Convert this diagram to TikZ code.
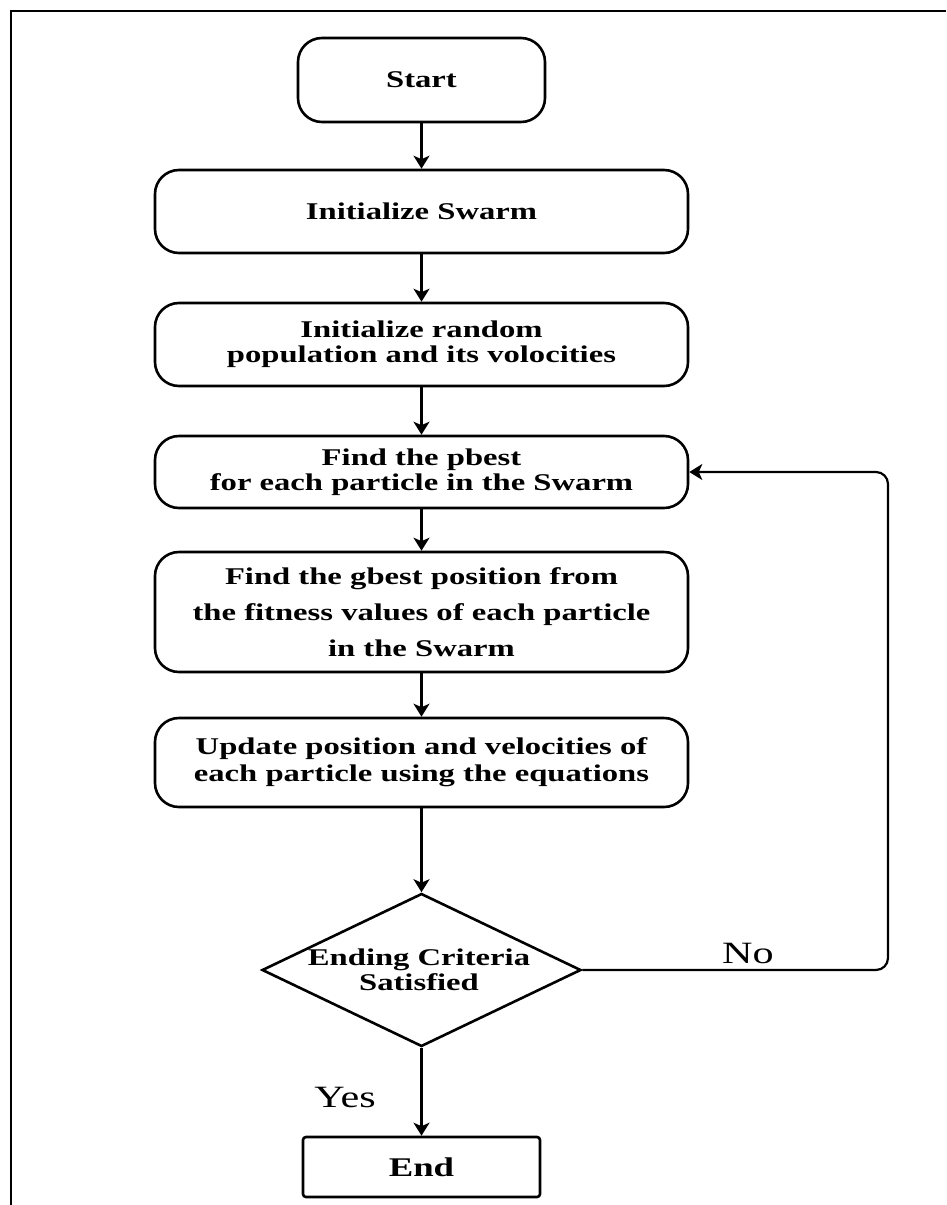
\documentclass[tikz,border=0pt]{standalone}
\usepackage{fontspec}
\setmainfont[FakeStretch=1.36]{Liberation Serif}
\usetikzlibrary{arrows.meta,shapes.geometric}
\begin{document}
\begin{tikzpicture}[x=1pt,y=-1pt,
  box/.style={draw,line width=2.6pt,rounded corners=24pt,minimum width=533pt,
    inner sep=0pt,align=center,font=\fontsize{24}{25}\selectfont\bfseries},
  flow/.style={line width=2.2pt,-{Stealth[length=13pt,width=16pt,inset=3.5pt]}}]
  \useasboundingbox (0,0) rectangle (946,1205);
  % partial outer frame
  \draw[line width=2.8pt] (11,1205) -- (11,11) -- (946,11);

  \node[box,minimum width=247pt,minimum height=84pt] (start) at (421.5,80) {Start};
  \node[box,minimum height=83pt] (init) at (421.5,211.5) {Initialize Swarm};
  \node[box,minimum height=83pt] (rand) at (421.5,344.5) {Initialize random\\population and its volocities};
  \node[box,minimum height=72pt] (pbest) at (421.5,472) {Find the pbest\\for each particle in the Swarm};
  \node[box,minimum height=120pt,font=\fontsize{24}{36}\selectfont\bfseries] (gbest) at (421.5,612)
    {Find the gbest position from\\the fitness values of each particle\\in the Swarm};
  \node[box,minimum height=89pt,font=\fontsize{24}{27}\selectfont\bfseries] (update) at (421.5,762.5)
    {Update position and velocities of\\each particle using the equations};
  \node[draw,diamond,line width=2.6pt,minimum width=319pt,minimum height=153pt,inner sep=0pt] (dec) at (421.5,970) {};
  \node[align=center,font=\fontsize{24}{25}\selectfont\bfseries] (dectext) at (419,970) {Ending Criteria\\Satisfied};
  \node[draw,line width=2.6pt,rounded corners=3pt,minimum width=237pt,minimum height=60pt,
    font=\fontsize{27}{30}\selectfont\bfseries] (end) at (421.5,1167) {End};

  \node[font=\fontsize{31}{34}\selectfont] (no) at (748,953) {No};
  \node[font=\fontsize{31}{34}\selectfont] (yes) at (345,1097) {Yes};

  \coordinate (c1) at (888,970);
  \coordinate (c2) at (888,472);

  \draw[flow] (start) -- (init);
  \draw[flow] (init) -- (rand);
  \draw[flow] (rand) -- (pbest);
  \draw[flow] (pbest) -- (gbest);
  \draw[flow] (gbest) -- (update);
  \draw[flow] (update) -- (dec.north);
  \draw[flow] (dec.south) -- (end);
  \draw[flow,rounded corners=12pt] (dec.east) -- (c1) -- (c2) -- (pbest.east);
\end{tikzpicture}
\end{document}
